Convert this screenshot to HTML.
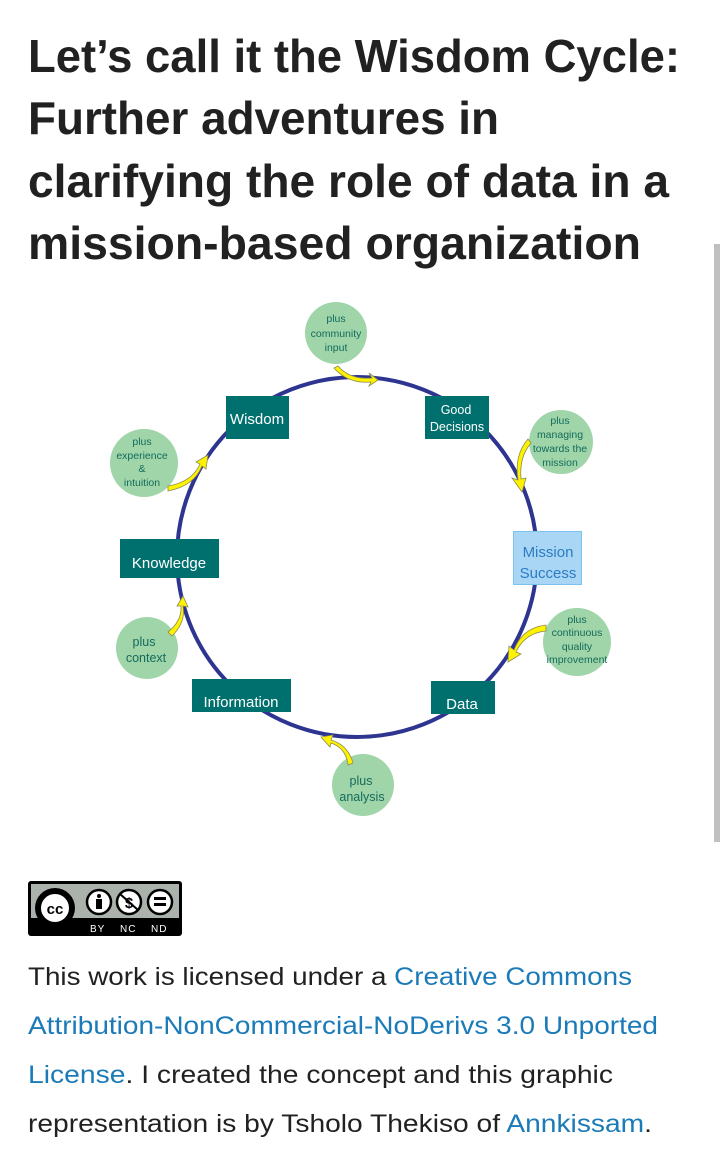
<!DOCTYPE html>
<html><head><meta charset="utf-8"><style>
html,body{margin:0;padding:0;background:#fff;width:720px;height:1175px;overflow:hidden}
svg{display:block}
</style></head><body>
<svg width="720" height="1175" viewBox="0 0 720 1175" xmlns="http://www.w3.org/2000/svg">
<defs>
<marker id="ah" markerWidth="6" markerHeight="6" refX="3" refY="3" orient="auto" markerUnits="userSpaceOnUse" viewBox="0 0 6 6">
</marker>
</defs>
<g font-family="Liberation Sans, sans-serif" font-weight="bold" font-size="46" fill="#212121">
<text x="28" y="72" textLength="652" lengthAdjust="spacingAndGlyphs">Let’s call it the Wisdom Cycle:</text>
<text x="28" y="134" textLength="471" lengthAdjust="spacingAndGlyphs">Further adventures in</text>
<text x="28" y="197" textLength="641" lengthAdjust="spacingAndGlyphs">clarifying the role of data in a</text>
<text x="28" y="259" textLength="613" lengthAdjust="spacingAndGlyphs">mission-based organization</text>
</g>
<rect x="714" y="244" width="6" height="598" fill="#c0c0c0"/>

<circle cx="357" cy="557" r="180" fill="none" stroke="#2e3590" stroke-width="4"/>

<g fill="#9fd5a9">
<circle cx="336" cy="333" r="31"/>
<circle cx="144" cy="463" r="34"/>
<circle cx="561" cy="442" r="32"/>
<circle cx="147" cy="648" r="31"/>
<circle cx="577" cy="642" r="34"/>
<circle cx="363" cy="785" r="31"/>
</g>
<g font-family="Liberation Sans, sans-serif" fill="#156b5c" text-anchor="middle" font-size="10.5">
<text x="336" y="322">plus</text><text x="336" y="337">community</text><text x="336" y="351">input</text>
<text x="142" y="445">plus</text><text x="142" y="459">experience</text><text x="142" y="472">&amp;</text><text x="142" y="486">intuition</text>
<text x="560" y="424">plus</text><text x="560" y="438">managing</text><text x="560" y="452">towards the</text><text x="560" y="466">mission</text>
<text x="577" y="623">plus</text><text x="577" y="636">continuous</text><text x="577" y="650">quality</text><text x="577" y="663">improvement</text>
<text x="144" y="646" font-size="12.5">plus</text><text x="146" y="662" font-size="12.5">context</text>
<text x="361" y="785" font-size="12.5">plus</text><text x="362" y="801" font-size="12.5">analysis</text>
</g>

<g fill="#fff200" stroke="#8a8a50" stroke-width="0.8">
<path d="M338,366 Q350,380 372,378 L369,373 L378,380 L369,386 L371,382 Q348,384 334,368 Z"/>
<path d="M528,439 Q514,455 518,480 L512,478 L522,492 L526,478 L521,479 Q519,457 531,443 Z"/>
<path d="M546,625 Q522,628 514,650 L509,646 L508,662 L521,654 L516,652 Q525,633 546,631 Z"/>
<path d="M353,763 Q348,745 331,740 L333,735 L321,737 L330,747 L331,743 Q346,748 348,765 Z"/>
<path d="M172,636 Q186,622 183,606 L188,607 L183,596 L177,606 L181,606 Q182,621 168,632 Z"/>
<path d="M168,491 Q194,486 202,466 L206,469 L208,455 L196,462 L200,464 Q192,482 168,486 Z"/>
</g>

<g fill="#00706e">
<rect x="226" y="396" width="63" height="43"/>
<rect x="425" y="396" width="64" height="43"/>
<rect x="120" y="539" width="99" height="39"/>
<rect x="192" y="679" width="99" height="33"/>
<rect x="431" y="681" width="64" height="33"/>
</g>
<rect x="513.5" y="531.5" width="68" height="53" fill="#aad6f6" stroke="#7cc2ef" stroke-width="1"/>
<g font-family="Liberation Sans, sans-serif" fill="#fff" text-anchor="middle">
<text x="257" y="424" font-size="15">Wisdom</text>
<text x="456" y="414" font-size="12.5">Good</text><text x="457" y="431" font-size="12.5">Decisions</text>
<text x="169" y="568" font-size="15">Knowledge</text>
<text x="241" y="707" font-size="15">Information</text>
<text x="462" y="709" font-size="15">Data</text>
</g>
<g font-family="Liberation Sans, sans-serif" fill="#2a7cc2" text-anchor="middle" font-size="15">
<text x="548" y="557">Mission</text><text x="548" y="578">Success</text>
</g>

<!-- CC badge -->
<rect x="28" y="881" width="154" height="55" rx="3" fill="#000"/>
<rect x="31" y="884" width="148" height="34" fill="#aab2ab"/>
<circle cx="55" cy="908" r="20" fill="#000"/>
<circle cx="55" cy="908" r="15" fill="#fff" stroke="#000" stroke-width="2"/>
<text x="55" y="914" font-family="Liberation Sans, sans-serif" font-weight="bold" font-size="15" text-anchor="middle" fill="#000">cc</text>
<g stroke="#000" stroke-width="2.5" fill="#fff">
<circle cx="99" cy="902" r="12"/><circle cx="129" cy="902" r="12"/><circle cx="160" cy="902" r="12"/>
</g>
<circle cx="99" cy="896" r="2" fill="#000"/><rect x="96" y="899" width="6" height="10" fill="#000"/>
<text x="129" y="908" font-family="Liberation Sans, sans-serif" font-weight="bold" font-size="15" text-anchor="middle" fill="#000">$</text>
<line x1="120" y1="894" x2="138" y2="910" stroke="#000" stroke-width="2"/>
<rect x="154" y="897" width="12" height="3" fill="#000"/><rect x="154" y="903" width="12" height="3" fill="#000"/>
<g font-family="Liberation Sans, sans-serif" font-size="10" fill="#fff" letter-spacing="1">
<text x="90" y="932">BY</text><text x="120" y="932">NC</text><text x="151" y="932">ND</text>
</g>

<g font-family="Liberation Sans, sans-serif" font-size="25" fill="#212121">
<text x="28" y="985" textLength="604" lengthAdjust="spacingAndGlyphs">This work is licensed under a <tspan fill="#1b7bb8">Creative Commons</tspan></text>
<text x="28" y="1034" textLength="630" lengthAdjust="spacingAndGlyphs" fill="#1b7bb8">Attribution-NonCommercial-NoDerivs 3.0 Unported</text>
<text x="28" y="1083" textLength="585" lengthAdjust="spacingAndGlyphs"><tspan fill="#1b7bb8">License</tspan>.  I created the concept and this graphic</text>
<text x="28" y="1132" textLength="624" lengthAdjust="spacingAndGlyphs">representation is by Tsholo Thekiso of <tspan fill="#1b7bb8">Annkissam</tspan>.</text>
</g>
</svg>
</body></html>
